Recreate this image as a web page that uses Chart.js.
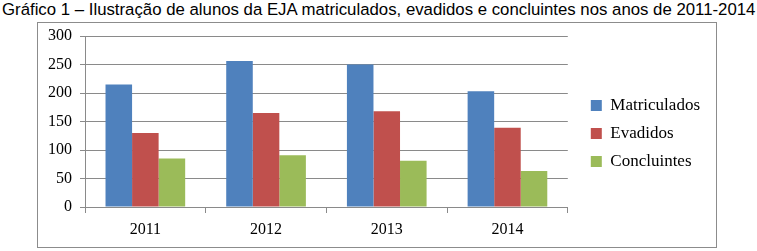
<!DOCTYPE html>
<html>
<head>
<meta charset="utf-8">
<script src="https://cdn.jsdelivr.net/npm/chart.js@4/dist/chart.umd.min.js"></script>
<style>
  html, body { margin: 0; padding: 0; background: #fff; width: 757px; height: 251px; overflow: hidden; }
  #title { position: absolute; left: 2px; top: 1px; font-family: "Liberation Sans", Arial, sans-serif; font-size: 16.8px; line-height: 18px; color: #000; white-space: nowrap; }
  #box { position: absolute; left: 37px; top: 22px; width: 678px; height: 224px; border: 1px solid #8c8c8c; }
  #box canvas { display: block; }
</style>
</head>
<body>
<div id="title">Gráfico 1 – Ilustração de alunos da EJA matriculados, evadidos e concluintes nos anos de 2011-2014</div>
<div id="box"><canvas id="c" width="678" height="224"></canvas></div>
<script>
const categories = ["2011", "2012", "2013", "2014"];
const matriculados = [215, 256, 250, 203];
const evadidos = [130, 165, 168, 139];
const concluintes = [85, 91, 81, 63];
const yTicks = [0, 50, 100, 150, 200, 250, 300];

const serif = '"Liberation Serif", "Times New Roman", serif';
const gridColor = '#8a8a8a';

function draw() {
  new Chart(document.getElementById('c'), {
    type: 'bar',
    data: {
      labels: categories,
      datasets: [
        { label: 'Matriculados', data: matriculados, backgroundColor: '#4F81BD' },
        { label: 'Evadidos', data: evadidos, backgroundColor: '#C0504D' },
        { label: 'Concluintes', data: concluintes, backgroundColor: '#9BBB59' }
      ]
    },
    options: {
      responsive: false,
      animation: false,
      events: [],
      datasets: { bar: { categoryPercentage: 0.66, barPercentage: 1.0 } },
      layout: { padding: { top: 0, bottom: 0, left: 0, right: 6 } },
      plugins: {
        title: { display: false },
        tooltip: { enabled: false },
        legend: {
          position: 'right',
          fullSize: false,
          align: 'center',
          maxWidth: 220,
          title: { display: true, text: ' ', font: { size: 10 }, padding: { top: 0, bottom: 12 } },
          labels: {
            boxWidth: 11,
            boxHeight: 11,
            padding: 11,
            color: '#000',
            font: { family: serif, size: 17 }
          }
        }
      },
      scales: {
        x: {
          grid: { display: true, drawOnChartArea: false, drawTicks: true, tickLength: 6, color: gridColor, offset: true },
          border: { display: true, color: gridColor, width: 1 },
          ticks: { color: '#000', padding: 7, font: { family: serif, size: 16 } },
          afterFit: (s) => { s.height = 40; }
        },
        y: {
          min: 0,
          max: 300,
          afterBuildTicks: (s) => { s.ticks = yTicks.map(v => ({ value: v })); },
          grid: { color: gridColor, drawTicks: true, tickLength: 5 },
          border: { display: true, color: gridColor, width: 1 },
          ticks: { color: '#000', padding: 8, font: { family: serif, size: 16 } },
          afterFit: (s) => { s.width = 47; s.paddingTop = 13; s.paddingBottom = 0; }
        },
        yR: {
          position: 'right',
          display: true,
          grid: { display: false },
          border: { display: false },
          ticks: { display: false },
          afterFit: (s) => { s.width = 12; s.paddingTop = 0; s.paddingBottom = 0; }
        }
      }
    }
  });
}

Promise.all([
  document.fonts.load('17px "Liberation Serif"'),
  document.fonts.load('16px "Liberation Serif"')
]).then(draw, draw);
</script>
</body>
</html>
